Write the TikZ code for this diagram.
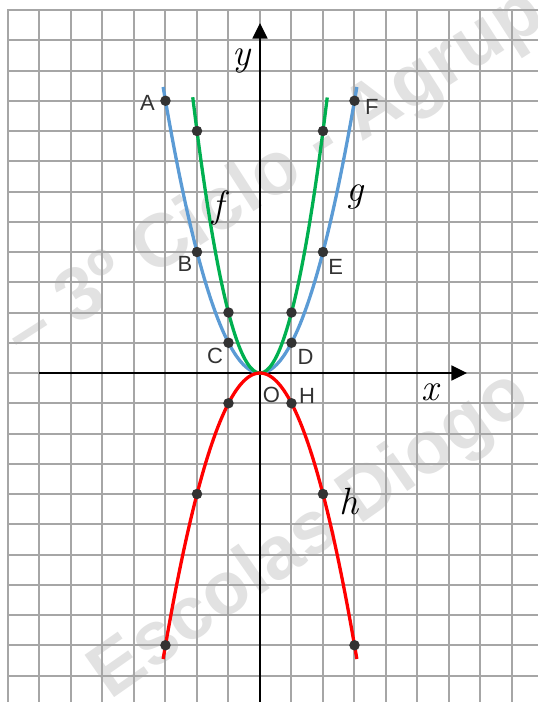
\documentclass[tikz,border=0pt]{standalone}
\usepackage{fontspec}
\usepackage{xcolor}
\usepackage{tikz}
\usetikzlibrary{arrows.meta, positioning}
\newfontfamily\labelfont{Liberation Sans}
\definecolor{gridgray}{HTML}{A6A6A6}
\definecolor{gblue}{HTML}{5B9BD5}
\definecolor{fgreen}{HTML}{00B050}
\definecolor{hred}{HTML}{FF0000}
\definecolor{dotgray}{HTML}{333333}
\definecolor{stampgray}{HTML}{E2E2E2}

\begin{document}
\begin{tikzpicture}[
      x=31.5bp, y=30.25bp,
      gridline/.style={gridgray, line width=2bp, line cap=rect},
      axis/.style={line width=1.4bp, -{Triangle[length=15.5bp, width=15bp]}},
      curve/.style={line width=3.3bp},
      dot/.style={circle, fill=dotgray, inner sep=0pt, minimum size=10.5bp},
      lbl/.style={font=\labelfont\fontsize{22bp}{22bp}\selectfont, text=dotgray, inner sep=0pt},
      fname/.style={font=\itshape\fontsize{38bp}{38bp}\selectfont, inner sep=0pt},
      stamp/.style={font=\labelfont\bfseries\fontsize{75bp}{75bp}\selectfont, text=stampgray, inner sep=0pt},
   ]
   \useasboundingbox (-8.254,-10.876) rectangle (8.825,12.331);
   \clip (-8.254,-10.876) rectangle (8.825,12.331);

   % Watermark
   \node[stamp, rotate=32.7] (stampa) at (0.476,6.53) {– 3º Ciclo - Agrup};
   \node[stamp, rotate=35] (stampb) at (1.62,-5.40) {Escolas Diogo};

   % Grid
   \foreach \gx in {-8,...,8}
      \draw[gridline] (\gx,-11) -- (\gx,12);
   \foreach \gy in {-10,...,12}
      \draw[gridline] (-8,\gy) -- (9,\gy);

   % Axes
   \coordinate (xstart) at (-7,0);
   \coordinate (xend)   at (6.57,0);
   \coordinate (ystart) at (0,-11);
   \coordinate (yend)   at (0,11.57);
   \draw[axis] (xstart) -- (xend);
   \draw[axis] (ystart) -- (yend);
   \node[fname] (xlabel) at (5.40,-0.63) {x};
   \node[fname] (ylabel) at (-0.58,10.33) {y};

   % Curves
   \draw[curve, gblue]  plot[domain=-3.075:3.075, samples=100] (\x,{\x*\x});
   \draw[curve, fgreen] plot[domain=-2.135:2.135, samples=100] (\x,{2*\x*\x});
   \draw[curve, hred]   plot[domain=-3.075:3.075, samples=100] (\x,{-\x*\x});
   \node[fname] (flabel) at (-1.33,5.45) {f};
   \node[fname] (glabel) at (3.02,5.82)  {g};
   \node[fname] (hlabel) at (2.83,-4.26) {h};

   % Points of g
   \node[dot, label={[lbl, label distance=5bp, yshift=-2bp]left:A}] (A) at (-3,9) {};
   \node[dot, label={[lbl, label distance=1bp]below left:B}]  (B) at (-2,4) {};
   \node[dot, label={[lbl, label distance=2bp]below left:C}]  (C) at (-1,1) {};
   \node[dot, label={[lbl, label distance=3bp]below right:D}] (D) at (1,1) {};
   \node[dot, label={[lbl, label distance=2bp, yshift=-2bp]below right:E}] (E) at (2,4) {};
   \node[dot, label={[lbl, label distance=5bp, yshift=-6bp]right:F}] (F) at (3,9) {};

   % Points of f
   \node[dot] (fL2) at (-2,8) {};
   \node[dot] (fL1) at (-1,2) {};
   \node[dot] (fR1) at (1,2) {};
   \node[dot] (fR2) at (2,8) {};

   % Points of h
   \node[dot] (hL3) at (-3,-9) {};
   \node[dot] (hL2) at (-2,-4) {};
   \node[dot] (hL1) at (-1,-1) {};
   \node[dot, label={[lbl, label distance=2bp, yshift=7bp]right:H}] (H) at (1,-1) {};
   \node[dot] (hR2) at (2,-4) {};
   \node[dot] (hR3) at (3,-9) {};

   % Origin
   \node[inner sep=0pt, label={[lbl, xshift=2bp, yshift=-13bp]below right:O}] (O) at (0,0) {};
\end{tikzpicture}
\end{document}
